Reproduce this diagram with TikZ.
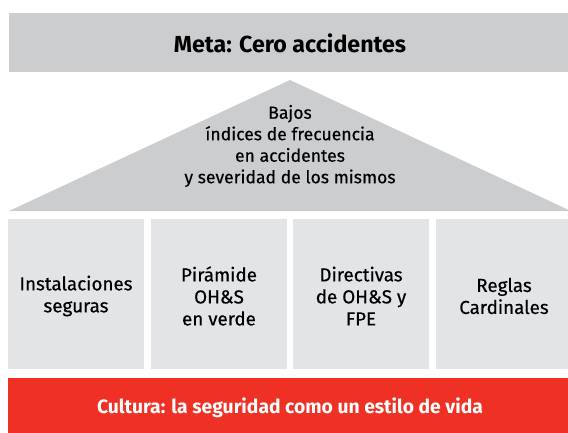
\documentclass[tikz,border=0pt]{standalone}
\usepackage{fontspec}
\setmainfont{Fira Sans}
\newfontfamily\medfont{Fira Sans}[FakeBold=0.45]
\definecolor{bargray}{HTML}{CCCDCF}
\definecolor{colgray}{HTML}{E3E4E6}
\definecolor{redbar}{HTML}{EE3124}
\begin{document}
\begin{tikzpicture}[x=1pt,y=-1pt,
  every node/.style={inner sep=0pt, outer sep=0pt},
  topbar/.style={fill=bargray, minimum width=562pt, minimum height=59pt, anchor=north west},
  colbox/.style={fill=colgray, minimum width=136pt, minimum height=150pt, anchor=north west},
  redbox/.style={fill=redbar, minimum width=564pt, minimum height=58pt, anchor=north west},
  coltext/.style={align=center, font=\medfont\fontsize{18.8}{22}\selectfont},
  rooftext/.style={align=center, font=\medfont\fontsize{17.6}{21.5}\selectfont}]
\useasboundingbox (0,0) rectangle (568,432);
\clip (0,0) rectangle (568,432);
\node[topbar] (meta) at (9,13) {};
\node (metatext) at (290,43) {\fontsize{23.2}{27}\selectfont\bfseries Meta: Cero accidentes};
\fill[bargray] (9,211) -- (290,80) -- (571,211) -- cycle;
\node[rooftext] (roof) at (290,146) {Bajos\\índices de frecuencia\\en accidentes\\y severidad de los mismos};
\node[colbox] (c1) at (8,219) {};
\node[colbox] (c2) at (151,219) {};
\node[colbox] (c3) at (293,219) {};
\node[colbox] (c4) at (436,219) {};
\node[coltext] (t1) at (76,296) {Instalaciones\\seguras};
\node[coltext] (t2) at (219,296) {Pirámide\\OH\&S\\en verde};
\node[coltext] (t3) at (361,296) {Directivas\\de OH\&S y\\FPE};
\node[coltext] (t4) at (504,296) {Reglas\\Cardinales};
\node[redbox] (cult) at (8,378) {};
\node[text=white, font=\fontsize{19.3}{23}\selectfont\bfseries] (culttext) at (290,408) {Cultura: la seguridad como un estilo de vida};
\end{tikzpicture}
\end{document}
